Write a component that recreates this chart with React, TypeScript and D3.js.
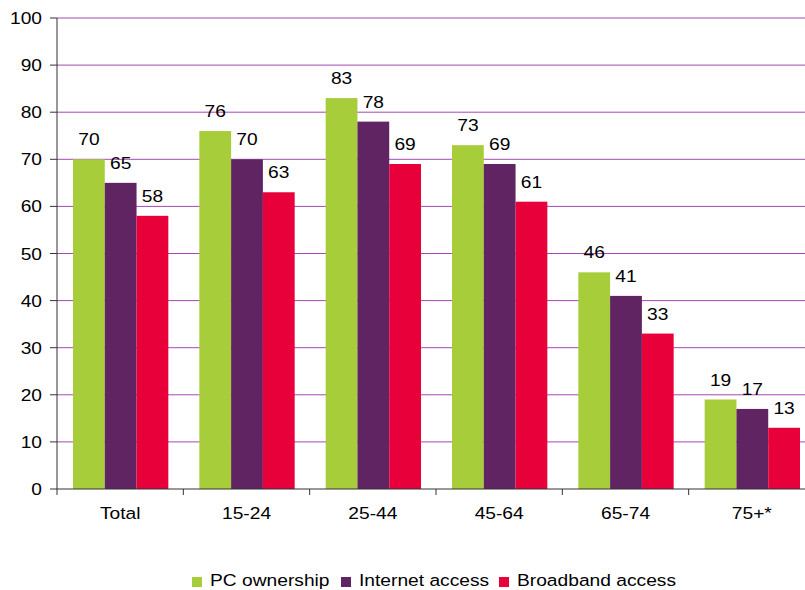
import React, { useEffect, useRef } from 'react';
import * as d3 from 'd3';

const categories = ['Total', '15-24', '25-44', '45-64', '65-74', '75+*'];
const pcOwnership = [70, 76, 83, 73, 46, 19];
const internetAccess = [65, 70, 78, 69, 41, 17];
const broadbandAccess = [58, 63, 69, 61, 33, 13];
const yTicks = [0, 10, 20, 30, 40, 50, 60, 70, 80, 90, 100];

const seriesNames = ['PC ownership', 'Internet access', 'Broadband access'];
const seriesColors = ['#a8cd3a', '#5f2461', '#e8003a'];

const App: React.FC = () => {
  const svgRef = useRef<SVGSVGElement>(null);

  useEffect(() => {
    if (!svgRef.current) return;
    const root = d3.select(svgRef.current);
    root.selectAll('*').remove();

    const width = 805;
    const height = 590;
    const margin = { top: 18, left: 57 };
    const plotRight = 815;
    const plotBottom = 489;
    const font = '"Liberation Sans", Arial, sans-serif';
    const stretch = 1.13;

    // text drawn a bit wider than normal, like the original export
    const label = (
      parent: d3.Selection<any, any, any, any>,
      x: number,
      y: number,
      txt: string,
      anchor = 'middle'
    ) => {
      parent.append('g')
        .attr('transform', `translate(${x},${y}) scale(${stretch},1)`)
        .append('text')
        .attr('text-anchor', anchor)
        .attr('font-family', font)
        .attr('font-size', '17px')
        .attr('fill', '#000')
        .text(txt);
    };

    const series = [pcOwnership, internetAccess, broadbandAccess];

    const x = d3.scaleBand<string>()
      .domain(categories)
      .range([margin.left, plotRight]);

    const inner = d3.scaleBand<number>()
      .domain([0, 1, 2])
      .range([16, x.bandwidth() - 15]);

    const y = d3.scaleLinear()
      .domain([0, 100])
      .range([plotBottom, margin.top]);

    root.attr('width', width).attr('height', height);

    // gridlines
    root.append('g')
      .selectAll('line')
      .data(yTicks.filter(t => t > 0))
      .enter()
      .append('line')
      .attr('x1', margin.left)
      .attr('x2', width)
      .attr('y1', d => y(d))
      .attr('y2', d => y(d))
      .attr('stroke', '#a846b8')
      .attr('stroke-width', 1);

    // bars + value labels
    const barLayer = root.append('g');
    categories.forEach((cat, ci) => {
      series.forEach((vals, si) => {
        const bx = x(cat)! + inner(si)!;
        barLayer.append('rect')
          .attr('x', bx)
          .attr('width', inner.bandwidth())
          .attr('y', y(vals[ci]))
          .attr('height', plotBottom - y(vals[ci]))
          .attr('fill', seriesColors[si]);
        label(barLayer, bx + inner.bandwidth() / 2, y(vals[ci]) - 14, String(vals[ci]));
      });
    });

    // y axis
    const yAxis = root.append('g');
    yAxis.append('line')
      .attr('x1', margin.left)
      .attr('x2', margin.left)
      .attr('y1', margin.top)
      .attr('y2', plotBottom)
      .attr('stroke', '#333');
    yTicks.forEach(t => {
      yAxis.append('line')
        .attr('x1', margin.left - 7)
        .attr('x2', margin.left)
        .attr('y1', y(t))
        .attr('y2', y(t))
        .attr('stroke', '#333');
      label(yAxis, 42, y(t) + 6, String(t), 'end');
    });

    // x axis
    const xAxis = root.append('g');
    xAxis.append('line')
      .attr('x1', margin.left)
      .attr('x2', width)
      .attr('y1', plotBottom)
      .attr('y2', plotBottom)
      .attr('stroke', '#333');
    categories.forEach(cat => {
      xAxis.append('line')
        .attr('x1', x(cat)!)
        .attr('x2', x(cat)!)
        .attr('y1', plotBottom)
        .attr('y2', plotBottom + 6)
        .attr('stroke', '#333');
      label(xAxis, x(cat)! + x.bandwidth() / 2, plotBottom + 30, cat);
    });

    // legend
    const legendX = [192, 341, 499];
    const legend = root.append('g');
    seriesNames.forEach((name, i) => {
      legend.append('rect')
        .attr('x', legendX[i])
        .attr('y', 577)
        .attr('width', 10)
        .attr('height', 10)
        .attr('fill', seriesColors[i]);
      label(legend, legendX[i] + 18, 586, name, 'start');
    });
  }, []);

  return (
    <div style={{ position: 'absolute', left: 0, top: 0 }}>
      <svg ref={svgRef} style={{ display: 'block' }}></svg>
    </div>
  );
};

export default App;
